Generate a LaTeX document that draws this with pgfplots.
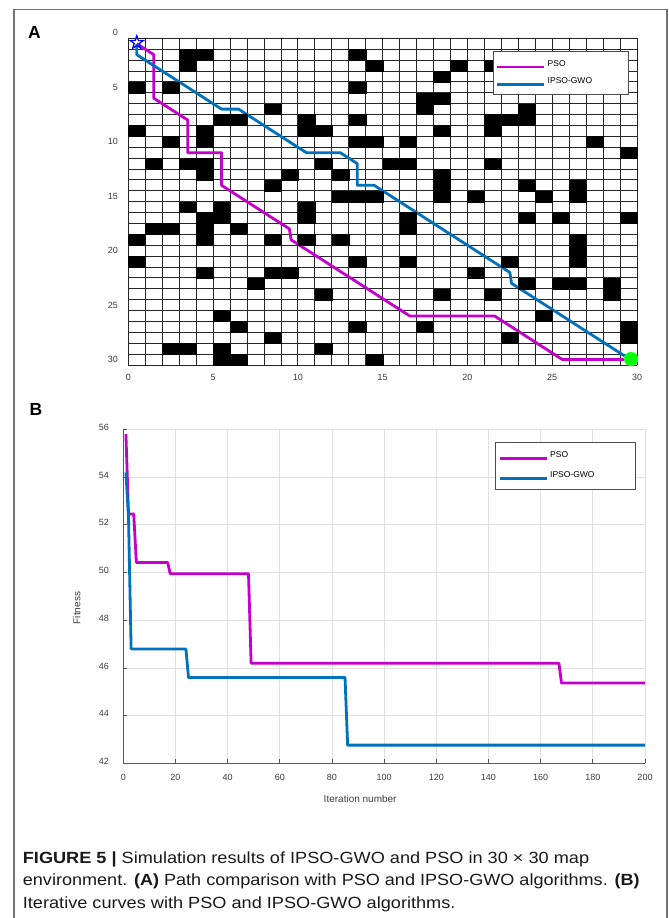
\documentclass[border=0pt]{standalone}
\usepackage{fontspec}
\setmainfont{Liberation Sans}
\usepackage{pgfplots}
\pgfplotsset{compat=1.18}
\definecolor{psoM}{RGB}{196,0,204}
\definecolor{gwoB}{RGB}{0,114,189}
\definecolor{tick}{RGB}{60,60,60}
\pgfdeclareplotmark{pentagram}{%
 \pgfpathmoveto{\pgfpointpolar{90}{\pgfplotmarksize}}%
 \pgfpathlineto{\pgfpointpolar{126}{0.382\pgfplotmarksize}}%
 \pgfpathlineto{\pgfpointpolar{162}{\pgfplotmarksize}}%
 \pgfpathlineto{\pgfpointpolar{198}{0.382\pgfplotmarksize}}%
 \pgfpathlineto{\pgfpointpolar{234}{\pgfplotmarksize}}%
 \pgfpathlineto{\pgfpointpolar{270}{0.382\pgfplotmarksize}}%
 \pgfpathlineto{\pgfpointpolar{306}{\pgfplotmarksize}}%
 \pgfpathlineto{\pgfpointpolar{342}{0.382\pgfplotmarksize}}%
 \pgfpathlineto{\pgfpointpolar{18}{\pgfplotmarksize}}%
 \pgfpathlineto{\pgfpointpolar{54}{0.382\pgfplotmarksize}}%
 \pgfpathclose\pgfusepathqstroke}
\begin{document}
\begin{tikzpicture}
\useasboundingbox (0pt,0pt) rectangle (669pt,918pt);
\draw[black!55, line width=1.3pt] (14pt,-2pt) -- (14pt,908.7pt) -- (667pt,908.7pt) -- (667pt,-2pt);
\node[anchor=north west, inner sep=0, font=\bfseries\fontsize{17.5}{20}\selectfont] at (28pt,891.3pt) {A};
\node[anchor=north west, inner sep=0, font=\bfseries\fontsize{17.5}{20}\selectfont] at (29.3pt,514.7pt) {B};
% ---------------- Panel A ----------------
\begin{axis}[at={(382.65pt,719.05pt)}, anchor=center,
 width=508.7pt, height=332.1pt, scale only axis,
 xmin=0, xmax=30, ymin=0, ymax=30.5, y dir=reverse,
 axis line style={draw=none}, major tick length=0pt,
 xtick={0,5,...,30}, ytick={0,5,...,30},
 /pgf/number format/assume math mode=true,
 tick label style={font=\fontsize{9}{10}\selectfont, text=tick},
 xticklabel style={yshift=-5.3pt}, yticklabel style={xshift=-6.8pt},
 clip=false,
 legend style={at={(0.716,0.946)}, anchor=north west, draw=black!70, line width=0.8pt, fill=white,
   font=\fontsize{8.5}{10}\selectfont, inner xsep=3pt, inner ysep=7pt, row sep=6pt, cells={anchor=west}},
 legend image code/.code={\draw[#1, line width=2.8pt] (0pt,-3pt) -- (47pt,-3pt);},
]
\addplot[forget plot, only marks, mark=square*, mark size=5.45pt,
 mark options={xscale=1.556, fill=black, draw=black, line width=0.2pt}] coordinates {
 (3.5,2)(4.5,2)(13.5,2)
 (3.5,3)(14.5,3)(19.5,3)(21.5,3)
 (18.5,4)
 (0.5,5)(2.5,5)(13.5,5)
 (17.5,6)(18.5,6)
 (8.5,7)(17.5,7)(23.5,7)
 (5.5,8)(6.5,8)(10.5,8)(13.5,8)(21.5,8)(22.5,8)(23.5,8)
 (0.5,9)(4.5,9)(10.5,9)(11.5,9)(18.5,9)(21.5,9)
 (2.5,10)(4.5,10)(13.5,10)(14.5,10)(16.5,10)(27.5,10)
 (29.5,11)
 (1.5,12)(3.5,12)(4.5,12)(11.5,12)(15.5,12)(16.5,12)(21.5,12)
 (4.5,13)(9.5,13)(12.5,13)(18.5,13)
 (8.5,14)(18.5,14)(23.5,14)(26.5,14)
 (12.5,15)(13.5,15)(14.5,15)(18.5,15)(20.5,15)(24.5,15)(26.5,15)
 (3.5,16)(5.5,16)(10.5,16)
 (4.5,17)(5.5,17)(10.5,17)(16.5,17)(23.5,17)(25.5,17)(29.5,17)
 (1.5,18)(2.5,18)(4.5,18)(6.5,18)(16.5,18)
 (0.5,19)(4.5,19)(8.5,19)(10.5,19)(12.5,19)(26.5,19)
 (26.5,20)
 (0.5,21)(13.5,21)(16.5,21)(22.5,21)(26.5,21)
 (4.5,22)(8.5,22)(9.5,22)(20.5,22)
 (7.5,23)(23.5,23)(25.5,23)(26.5,23)(28.5,23)
 (11.5,24)(18.5,24)(21.5,24)(28.5,24)
 (5.5,26)(24.5,26)
 (6.5,27)(13.5,27)(17.5,27)(29.5,27)
 (8.5,28)(22.5,28)(29.5,28)
 (2.5,29)(3.5,29)(5.5,29)(11.5,29)
 (5.5,30)(6.5,30)(14.5,30)
};
% grid lines (vertical, serpentine)
\addplot[forget plot, black!85, line width=0.8pt] coordinates {
 (0,0.5)(0,30.5)(1,30.5)(1,0.5)(2,0.5)(2,30.5)(3,30.5)(3,0.5)(4,0.5)(4,30.5)
 (5,30.5)(5,0.5)(6,0.5)(6,30.5)(7,30.5)(7,0.5)(8,0.5)(8,30.5)(9,30.5)(9,0.5)
 (10,0.5)(10,30.5)(11,30.5)(11,0.5)(12,0.5)(12,30.5)(13,30.5)(13,0.5)(14,0.5)(14,30.5)
 (15,30.5)(15,0.5)(16,0.5)(16,30.5)(17,30.5)(17,0.5)(18,0.5)(18,30.5)(19,30.5)(19,0.5)
 (20,0.5)(20,30.5)(21,30.5)(21,0.5)(22,0.5)(22,30.5)(23,30.5)(23,0.5)(24,0.5)(24,30.5)
 (25,30.5)(25,0.5)(26,0.5)(26,30.5)(27,30.5)(27,0.5)(28,0.5)(28,30.5)(29,30.5)(29,0.5)
 (30,0.5)(30,30.5)
};
% grid lines (horizontal, serpentine)
\addplot[forget plot, black!85, line width=0.8pt] coordinates {
 (0,0.5)(30,0.5)(30,1.5)(0,1.5)(0,2.5)(30,2.5)(30,3.5)(0,3.5)(0,4.5)(30,4.5)
 (30,5.5)(0,5.5)(0,6.5)(30,6.5)(30,7.5)(0,7.5)(0,8.5)(30,8.5)(30,9.5)(0,9.5)
 (0,10.5)(30,10.5)(30,11.5)(0,11.5)(0,12.5)(30,12.5)(30,13.5)(0,13.5)(0,14.5)(30,14.5)
 (30,15.5)(0,15.5)(0,16.5)(30,16.5)(30,17.5)(0,17.5)(0,18.5)(30,18.5)(30,19.5)(0,19.5)
 (0,20.5)(30,20.5)(30,21.5)(0,21.5)(0,22.5)(30,22.5)(30,23.5)(0,23.5)(0,24.5)(30,24.5)
 (30,25.5)(0,25.5)(0,26.5)(30,26.5)(30,27.5)(0,27.5)(0,28.5)(30,28.5)(30,29.5)(0,29.5)
 (0,30.5)(30,30.5)
};
\addplot[psoM, line width=2.8pt, line join=round] coordinates {
 (0.5,1)(1.5,2)(1.5,6)(3.5,8)(3.5,11)(5.5,11)(5.5,14)(9.5,18)(9.6,19)(16.6,26)(21.6,26)(25.6,30)(29.6,30)
};
\addlegendentry{\makebox[76pt][l]{PSO}}
\addplot[gwoB, line width=2.8pt, line join=round] coordinates {
 (0.5,1)(0.5,2)(5.5,7)(6.5,7)(10.5,11)(12.5,11)(13.5,12)(13.5,14)(14.5,14)(22.5,22)(22.6,23)(29.6,30)
};
\addlegendentry{\makebox[76pt][l]{IPSO-GWO}}
\addplot[forget plot, only marks, mark=pentagram, mark size=7pt, mark options={draw=blue, line width=1.2pt}] coordinates {(0.5,0.9)};
\addplot[forget plot, only marks, mark=*, mark size=7pt, mark options={fill=green, draw=green!70!white}] coordinates {(29.65,29.95)};
\end{axis}
% ---------------- Panel B ----------------
\begin{axis}[at={(123.3pt,154.5pt)}, anchor=south west,
 width=521.7pt, height=334.2pt, scale only axis,
 xmin=0, xmax=200, ymin=42, ymax=56,
 xtick={0,20,...,200}, ytick={42,44,...,56},
 axis x line*=bottom, axis y line*=left,
 axis line style={black!65, line width=0.9pt},
 tick align=inside, major tick length=4pt, tick style={black!65, line width=0.8pt},
 grid=major, grid style={black!12, line width=0.7pt},
 /pgf/number format/assume math mode=true,
 tick label style={font=\fontsize{9}{10}\selectfont, text=tick},
 xticklabel style={yshift=-7pt}, yticklabel style={xshift=-11pt, yshift=2pt},
 xlabel={Iteration number}, ylabel={Fitness},
 label style={font=\fontsize{10}{12}\selectfont, text=tick},
 xlabel style={at={(0.454,-0.106)}, anchor=center},
 ylabel style={at={(-0.0893,0.465)}, anchor=center, rotate=0},
 legend style={at={(0.7125,0.963)}, anchor=north west, draw=black!70, line width=0.8pt, fill=white,
   font=\fontsize{8.5}{10}\selectfont, inner xsep=3pt, inner ysep=7.5pt, row sep=9pt, cells={anchor=west}},
 legend image code/.code={\draw[#1, line width=2.8pt] (0pt,-3pt) -- (47pt,-3pt);},
]
\addplot[psoM, line width=2.8pt, line join=round] coordinates {
 (1,55.8)(2,52.45)(4,52.45)(5,50.42)(17,50.42)(18,49.95)(48,49.95)(49,46.2)(167,46.2)(168,45.37)(200,45.37)
};
\addlegendentry{\makebox[80pt][l]{PSO}}
\addplot[gwoB, line width=2.8pt, line join=round] coordinates {
 (1,54.2)(2,52.3)(3,46.8)(24,46.8)(25,45.6)(85,45.6)(86,42.77)(200,42.77)
};
\addlegendentry{\makebox[80pt][l]{IPSO-GWO}}
\end{axis}
% ---------------- Caption ----------------
\begin{scope}[every node/.style={anchor=base west, inner sep=0, font=\fontsize{16.2}{19}\selectfont, text=black!90}]
\node at (22.7pt,54.3pt) {\scalebox{1.12}[1]{\textbf{FIGURE 5 |} Simulation results of IPSO-GWO and PSO in 30 × 30 map}};
\node at (22.7pt,32.3pt) {\scalebox{1.115}[1]{environment. \textbf{(A)} Path comparison with PSO and IPSO-GWO algorithms. \textbf{(B)}}};
\node at (22.7pt,9.6pt) {\scalebox{1.12}[1]{Iterative curves with PSO and IPSO-GWO algorithms.}};
\end{scope}
\end{tikzpicture}
\end{document}
